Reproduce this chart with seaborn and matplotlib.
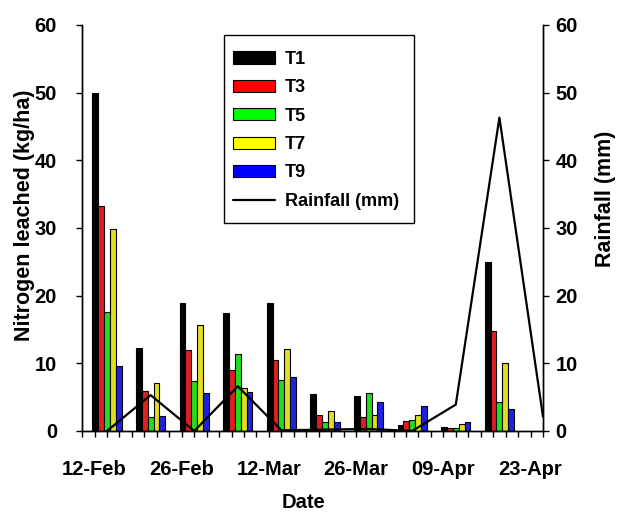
import numpy as np
import pandas as pd
import matplotlib
matplotlib.use("Agg")
import matplotlib.pyplot as plt
import matplotlib.dates as mdates
from matplotlib.patches import Patch, Rectangle
from matplotlib.lines import Line2D
import seaborn as sns

# ---------------- data ----------------
bar_dates = ["2009-02-14", "2009-02-21", "2009-02-28", "2009-03-07", "2009-03-14",
             "2009-03-21", "2009-03-28", "2009-04-04", "2009-04-11", "2009-04-18"]
T1 = [50.0, 12.2, 18.9, 17.4, 18.9, 5.5, 5.2, 0.9, 0.6, 25.0]
T3 = [33.3, 5.9, 11.9, 9.0, 10.5, 2.4, 2.1, 1.5, 0.5, 14.7]
T5 = [17.6, 2.0, 7.4, 11.3, 7.6, 1.4, 5.6, 1.6, 0.5, 4.3]
T7 = [29.8, 7.1, 15.6, 6.4, 12.1, 2.9, 2.3, 2.4, 1.1, 10.1]
T9 = [9.6, 2.2, 5.6, 5.8, 8.0, 1.3, 4.3, 3.7, 1.3, 3.3]
treatments = ["T1", "T3", "T5", "T7", "T9"]

rain_dates = bar_dates + ["2009-04-25"]
rainfall = [0.0, 5.3, 0.0, 6.6, 0.1, 0.2, 0.3, 0.0, 3.9, 46.3, 2.1]

xtick_dates = ["2009-02-12", "2009-02-26", "2009-03-12", "2009-03-26", "2009-04-09", "2009-04-23"]
yticks = [0, 10, 20, 30, 40, 50, 60]

colors = ["#000000", "#FF0000", "#00FF00", "#FFFF00", "#0000FF"]

# ---------------- style ----------------
sns.set_style("ticks")
plt.rcParams["font.family"] = ["Liberation Sans", "DejaVu Sans"]
plt.rcParams["font.weight"] = "bold"
plt.rcParams["text.color"] = "black"
plt.rcParams["axes.labelcolor"] = "black"
plt.rcParams["xtick.color"] = "black"
plt.rcParams["ytick.color"] = "black"
plt.rcParams["axes.edgecolor"] = "black"

days = mdates.date2num(pd.to_datetime(bar_dates))
series = [T1, T3, T5, T7, T9]
df = pd.DataFrame({
    "day": np.tile(days, len(treatments)),
    "Treatment": np.repeat(treatments, len(days)),
    "N": np.concatenate(series),
})
rain_days = mdates.date2num(pd.to_datetime(rain_dates))

fig = plt.figure(figsize=(6.22, 5.18), dpi=100)
ax = fig.add_axes([0.132, 0.168, 0.741, 0.784])

sns.barplot(data=df, x="day", y="N", hue="Treatment", hue_order=treatments,
            palette=colors, native_scale=True, width=0.67, errorbar=None,
            edgecolor="black", linewidth=0.8, ax=ax, legend=False)

ax2 = ax.twinx()
sns.lineplot(x=rain_days, y=rainfall, color="black", lw=1.6, ax=ax2)

x0 = mdates.date2num(pd.Timestamp("2009-02-10"))
x1 = mdates.date2num(pd.Timestamp("2009-04-25"))
ax.set_xlim(x0, x1)
ax.set_ylim(0, 60)
ax2.set_ylim(0, 60)

ax.xaxis.set_major_locator(matplotlib.ticker.FixedLocator(mdates.date2num(pd.to_datetime(xtick_dates))))
ax.xaxis.set_major_formatter(mdates.DateFormatter("%d-%b"))
ax.xaxis.set_minor_locator(matplotlib.ticker.FixedLocator(np.arange(x0, x1 + 0.1, 2)))
ax.set_yticks(yticks)
ax2.set_yticks(yticks)

for a in (ax, ax2):
    a.tick_params(axis="both", which="major", direction="out", length=4, width=1,
                  labelsize=14.5, colors="black")
    a.tick_params(axis="x", which="minor", direction="out", length=4, width=1)
    for s in a.spines.values():
        s.set_color("black")
        s.set_linewidth(1)
    a.spines["top"].set_visible(False)
ax.tick_params(axis="x", pad=17)
ax.tick_params(axis="y", pad=14)
ax2.tick_params(axis="y", pad=5)
for a in (ax, ax2):
    for lab in a.get_xticklabels() + a.get_yticklabels():
        lab.set_fontweight("bold")
        lab.set_color("black")

ax.set_xlabel("Date", fontsize=14.5, fontweight="bold", color="black")
ax.xaxis.set_label_coords(0.48, -0.177)
ax.xaxis.label.set_va("center")
ax.set_ylabel("Nitrogen leached (kg/ha)", fontsize=15.5, fontweight="bold", color="black")
ax.yaxis.set_label_coords(-0.126, 0.53)
ax.yaxis.label.set_va("center")
ax2.set_ylabel("Rainfall (mm)", fontsize=15.5, fontweight="bold", color="black")
ax2.yaxis.set_label_coords(1.135, 0.571)
ax2.yaxis.label.set_va("center")

# legend frame (square box) drawn separately
ax2.add_patch(Rectangle((0.308, 0.512), 0.412, 0.463, transform=ax2.transAxes,
                        facecolor="white", edgecolor="black", linewidth=1, zorder=5))

handles = [Patch(facecolor=c, edgecolor="black", linewidth=0.8) for c in colors]
handles.append(Line2D([0], [0], color="black", lw=1.6))
labels = treatments + ["Rainfall (mm)"]
leg = ax2.legend(handles, labels, loc="upper left",
                 bbox_to_anchor=(0.3275, 0.936), fontsize=13, frameon=False,
                 handlelength=2.3, handleheight=0.65, handletextpad=0.55,
                 labelspacing=0.63, borderpad=0, borderaxespad=0)
leg.set_zorder(6)
for t in leg.get_texts():
    t.set_fontweight("bold")
    t.set_color("black")

fig.savefig("out.png", dpi=100)
